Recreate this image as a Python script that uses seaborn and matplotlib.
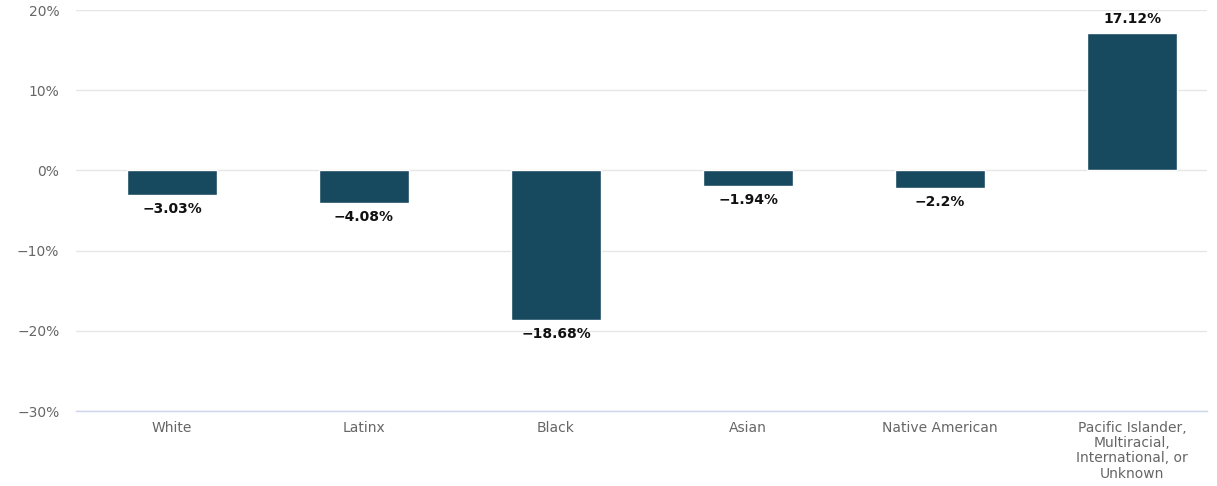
import matplotlib
matplotlib.use("Agg")
import matplotlib.pyplot as plt
import seaborn as sns
import pandas as pd
from matplotlib.ticker import FuncFormatter

# Change in enrollment share by group (percent)
categories = [
    "White",
    "Latinx",
    "Black",
    "Asian",
    "Native American",
    "Pacific Islander,\nMultiracial,\nInternational, or\nUnknown",
]
values = [-3.03, -4.08, -18.68, -1.94, -2.2, 17.12]
y_ticks = [-30, -20, -10, 0, 10, 20]

sns.set_theme(style="white")
plt.rcParams["font.family"] = ["DejaVu Sans"]

df = pd.DataFrame({"group": categories, "change": values})

fig = plt.figure(figsize=(12.17, 4.86), dpi=100)
ax = fig.add_axes([76 / 1217, 1 - 411 / 486, (1207 - 76) / 1217, (411 - 10) / 486])

sns.barplot(data=df, x="group", y="change", order=categories, color="#17495f",
            saturation=1, width=0.47, ax=ax, zorder=3)

ax.set_ylim(-30, 20)
ax.set_xlim(-0.5, 5.39)
ax.set_yticks(y_ticks)
ax.yaxis.set_major_formatter(FuncFormatter(lambda v, _: f"{v:g}%".replace("-", "\u2212")))
ax.grid(axis="y", color="#e6e6e6", linewidth=1, zorder=0)
ax.grid(axis="x", visible=False)

for side in ("top", "right", "left"):
    ax.spines[side].set_visible(False)
ax.spines["bottom"].set_position(("data", -30))
ax.spines["bottom"].set_color("#ccd6eb")
ax.spines["bottom"].set_linewidth(1)

ax.tick_params(axis="y", length=0, pad=12, labelsize=10, labelcolor="#666666")
ax.tick_params(axis="x", length=0, pad=7, labelsize=10, labelcolor="#666666")
ax.set_xlabel("")
ax.set_ylabel("")
for lbl in ax.get_xticklabels():
    lbl.set_linespacing(1.12)

# value labels at the end of each bar
for container in ax.containers:
    labels = [f"{v:g}%".replace("-", "\u2212") for v in values]
    ax.bar_label(container, labels=labels, padding=5, fontsize=10,
                 fontweight="bold", color="#111111")

fig.savefig("out.png", dpi=100, facecolor="white")
